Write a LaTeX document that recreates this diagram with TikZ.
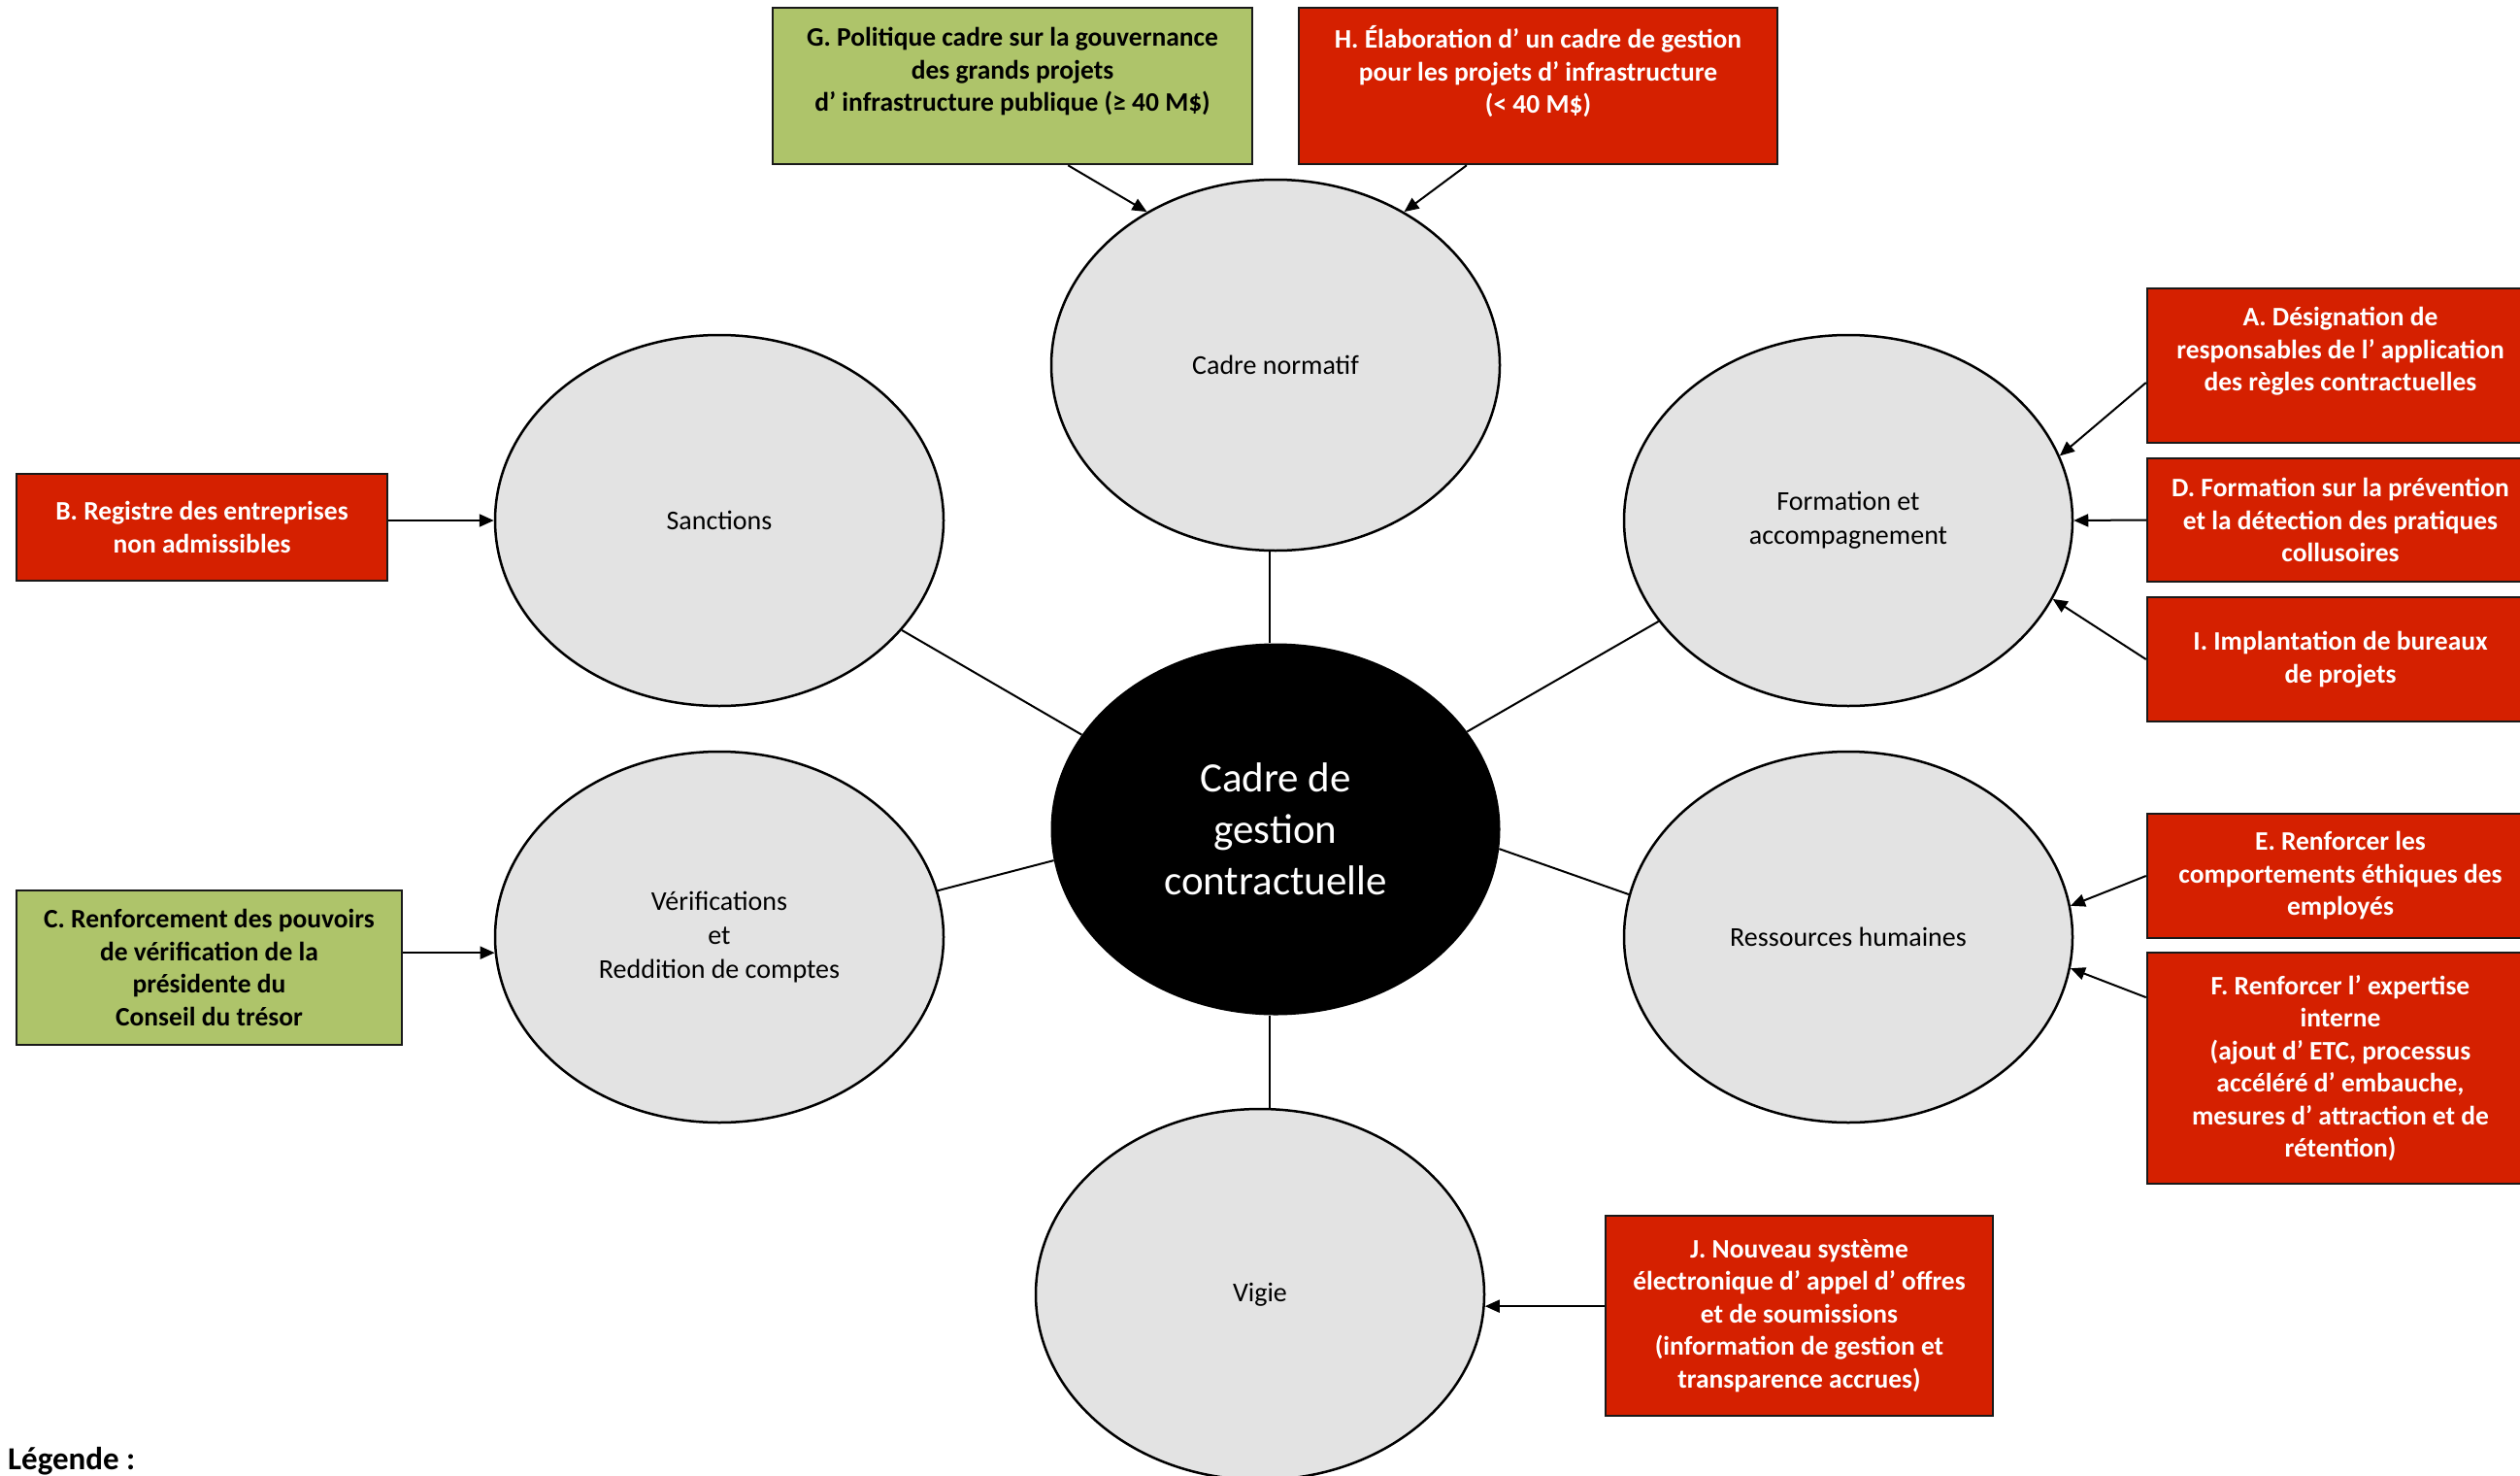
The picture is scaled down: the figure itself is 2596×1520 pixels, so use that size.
\documentclass[tikz,border=0pt]{standalone}
\usepackage{fontspec}
\setmainfont{Carlito}
\usetikzlibrary{shapes.geometric,arrows.meta}

\definecolor{rougeBox}{RGB}{213,32,0}
\definecolor{vertBox}{RGB}{174,196,106}
\definecolor{grisBulle}{RGB}{227,227,227}

\tikzset{
  bulle/.style={ellipse, draw=black, line width=2.5pt, fill=grisBulle, minimum width=462pt, minimum height=382pt, inner sep=0pt, align=center, font=\fontsize{28}{35}\selectfont},
  coeur/.style={ellipse, fill=black, text=white, minimum width=463pt, minimum height=383pt, inner sep=0pt, align=center, font=\fontsize{43}{53}\selectfont},
  mesure/.style={rectangle, draw=black!90, line width=2.5pt, inner sep=0pt, align=center, font=\fontsize{27.5}{33.5}\selectfont\bfseries},
  rouge/.style={mesure, fill=rougeBox, text=white},
  vert/.style={mesure, fill=vertBox, text=black},
  lien/.style={line width=2pt},
  fleche/.style={line width=2pt, -{Triangle[length=15pt,width=13pt]}}
}

\begin{document}
\begin{tikzpicture}[x=1pt,y=1pt,yscale=-1,xscale=1]
    \useasboundingbox (0,0) rectangle (2596,1520);
    \clip (0,0) rectangle (2596,1520);

    %Shape: Ellipse (centre)
    \draw (1314,854) node [coeur] (gest) {Cadre de\\gestion\\contractuelle};
    %Shape: Ellipse
    \draw (1314,376) node [bulle] (norm) {Cadre normatif};
    %Shape: Ellipse
    \draw (741,536) node [bulle] (sanc) {Sanctions};
    %Shape: Ellipse
    \draw (1904,536) node [bulle] (form) {Formation et\\accompagnement};
    %Shape: Ellipse
    \draw (741,965) node [bulle] (verif) {Vérifications\\et\\Reddition de comptes};
    %Shape: Ellipse
    \draw (1904,965) node [bulle] (rh) {Ressources humaines};
    %Shape: Ellipse
    \draw (1298,1333) node [bulle] (vigie) {Vigie};

    %Straight Lines
    \draw [lien] ([xshift=-6pt]norm.south) -- ([xshift=-6pt]gest.north);
    \draw [lien] (sanc.329) -- (gest.154);
    \draw [lien] (form.208) -- (gest.27);
    \draw [lien] (verif.12) -- (gest.188);
    \draw [lien] (rh.169) -- (gest.355);
    \draw [lien] ([xshift=-6pt]gest.south) -- ([xshift=-6pt]gest.south |- vigie.north);

    % Text Node
    \draw (1043,88.5) node [vert, minimum width=494pt, minimum height=161pt] (G) {G. Politique cadre sur la gouvernance\\des grands projets\\d’ infrastructure publique (≥ 40 M\$)\\\mbox{}};
    % Text Node
    \draw (1584.5,88.5) node [rouge, minimum width=493pt, minimum height=161pt] (H) {H. Élaboration d’ un cadre de gestion\\pour les projets d’ infrastructure\\(< 40 M\$)\\\mbox{}};
    % Text Node
    \draw (2411,376.5) node [rouge, minimum width=398pt, minimum height=159pt] (A) {A. Désignation de\\responsables de l’ application\\des règles contractuelles\\\mbox{}};
    % Text Node
    \draw (2411,535.5) node [rouge, minimum width=398pt, minimum height=127pt] (D) {D. Formation sur la prévention\\et la détection des pratiques\\collusoires};
    % Text Node
    \draw (2411,679) node [rouge, minimum width=398pt, minimum height=128pt] (I) {I. Implantation de bureaux\\de projets};
    % Text Node
    \draw (2411,902) node [rouge, minimum width=398pt, minimum height=128pt] (E) {E. Renforcer les\\comportements éthiques des\\employés};
    % Text Node
    \draw (2411,1100) node [rouge, minimum width=398pt, minimum height=238pt] (F) {F. Renforcer l’ expertise\\interne\\(ajout d’ ETC, processus\\accéléré d’ embauche,\\mesures d’ attraction et de\\rétention)};
    % Text Node
    \draw (208,543) node [rouge, minimum width=382pt, minimum height=110pt] (B) {B. Registre des entreprises\\non admissibles};
    % Text Node
    \draw (215.5,996.5) node [vert, minimum width=397pt, minimum height=159pt] (C) {C. Renforcement des pouvoirs\\de vérification de la\\présidente du\\Conseil du trésor};
    % Text Node
    \draw (1853.5,1355) node [rouge, minimum width=399pt, minimum height=206pt] (J) {J. Nouveau système\\électronique d’ appel d’ offres\\et de soumissions\\(information de gestion et\\transparence accrues)};

    %Arrows
    \draw [fleche] (G.305) -- (norm.130);
    \draw [fleche] (H.228) -- (norm.50);
    \draw [fleche] (A.185) -- (form.17);
    \draw [fleche] (D.west) -- (form.east);
    \draw [fleche] (I.west) -- (form.339);
    \draw [fleche] (E.west) -- (rh.8);
    \draw [fleche] (F.160) -- (rh.352);
    \draw [fleche] (B.east |- sanc.west) -- (sanc.west);
    \draw [fleche] (verif.184 -| C.east) -- (verif.184);
    \draw [fleche] (vigie.357 -| J.west) -- (vigie.357);

    % Text Node
    \draw (8,1513) node [anchor=base west, inner sep=0pt, font=\fontsize{33}{40}\selectfont\bfseries] (legende) {Légende :};

\end{tikzpicture}
\end{document}
